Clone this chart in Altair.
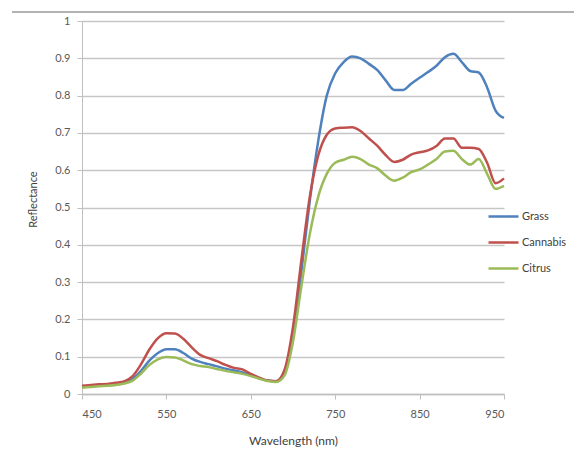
import altair as alt
import pandas as pd

wavelengths = list(range(450, 951, 10))

grass = [0.020, 0.022, 0.023, 0.024, 0.026, 0.030, 0.040, 0.062, 0.090, 0.110,
         0.120, 0.120, 0.110, 0.095, 0.086, 0.080, 0.074, 0.068, 0.063, 0.058,
         0.050, 0.042, 0.036, 0.034, 0.060, 0.160, 0.330, 0.520, 0.680, 0.800,
         0.860, 0.890, 0.905, 0.900, 0.885, 0.868, 0.840, 0.815, 0.815, 0.832,
         0.848, 0.863, 0.880, 0.903, 0.912, 0.890, 0.866, 0.862, 0.822, 0.760,
         0.740]

cannabis = [0.022, 0.024, 0.026, 0.027, 0.030, 0.034, 0.048, 0.080, 0.120, 0.150,
            0.163, 0.162, 0.148, 0.125, 0.105, 0.096, 0.088, 0.078, 0.070, 0.066,
            0.054, 0.044, 0.036, 0.034, 0.065, 0.180, 0.360, 0.530, 0.640, 0.695,
            0.712, 0.714, 0.715, 0.705, 0.685, 0.665, 0.640, 0.622, 0.628, 0.642,
            0.648, 0.653, 0.665, 0.685, 0.685, 0.660, 0.660, 0.657, 0.620, 0.565,
            0.578]

citrus = [0.017, 0.019, 0.021, 0.022, 0.024, 0.028, 0.036, 0.055, 0.078, 0.093,
          0.099, 0.098, 0.090, 0.080, 0.075, 0.072, 0.067, 0.062, 0.058, 0.054,
          0.048, 0.041, 0.035, 0.032, 0.050, 0.140, 0.290, 0.430, 0.530, 0.590,
          0.620, 0.628, 0.636, 0.630, 0.615, 0.605, 0.585, 0.572, 0.580, 0.595,
          0.602, 0.615, 0.630, 0.650, 0.652, 0.630, 0.615, 0.630, 0.590, 0.550,
          0.558]

series_names = ["Grass", "Cannabis", "Citrus"]
series_colors = ["#4F81BD", "#C0504D", "#9BBB59"]
x_ticks = [450, 550, 650, 750, 850, 950]
y_ticks = [0, 0.1, 0.2, 0.3, 0.4, 0.5, 0.6, 0.7, 0.8, 0.9, 1]

rows = []
for name, vals in zip(series_names, [grass, cannabis, citrus]):
    for w, v in zip(wavelengths, vals):
        rows.append({"Wavelength": w, "Reflectance": v, "Series": name})
df = pd.DataFrame(rows)

FONT = "Lato"

lines = alt.Chart(df).mark_line(strokeWidth=2.5, interpolate="monotone").encode(
    x=alt.X("Wavelength:Q",
            scale=alt.Scale(domain=[450, 950], nice=False, zero=False),
            axis=alt.Axis(values=x_ticks, title="Wavelength (nm)", grid=False,
                          domainColor="#bfbfbf", domainWidth=1.5,
                          tickColor="#bfbfbf", tickSize=5, tickWidth=1,
                          labelPadding=9, labelFontSize=11, labelColor="#595959",
                          labelFont=FONT, titleFont=FONT, titleFontSize=12,
                          titleFontWeight="normal", titleColor="#404040",
                          titleY=46, titleBaseline="middle")),
    y=alt.Y("Reflectance:Q",
            scale=alt.Scale(domain=[0, 1], nice=False),
            axis=alt.Axis(values=y_ticks, format="~g", title="Reflectance",
                          grid=True, gridColor="#c6c6c6", gridWidth=1.5,
                          domainColor="#bfbfbf", domainWidth=1,
                          tickColor="#bfbfbf", tickSize=5, labelPadding=7,
                          labelFontSize=11, labelColor="#595959",
                          labelFont=FONT, titleFont=FONT, titleFontSize=11,
                          titleFontWeight="normal", titleColor="#404040",
                          titleX=-49, titleY=178, titleAngle=270,
                          titleBaseline="middle", titleAlign="center")),
    color=alt.Color("Series:N",
                    scale=alt.Scale(domain=series_names, range=series_colors),
                    sort=series_names,
                    legend=alt.Legend(title=None, orient="none",
                                      legendX=405, legendY=179,
                                      symbolType="stroke", symbolSize=900,
                                      symbolStrokeWidth=2.5, rowPadding=4,
                                      labelFont=FONT, labelFontSize=11,
                                      labelColor="#404040", labelOffset=2)),
)

frame = alt.Chart(pd.DataFrame({"k": [0]})).mark_rule(
    color="#9a9a9a", strokeWidth=1.5
).encode(x=alt.value(-70), x2=alt.value(494), y=alt.value(-9))

chart = alt.layer(lines, frame).properties(
    width=422, height=373,
    padding={"left": 82, "top": 21, "right": 70, "bottom": 56},
    autosize=alt.AutoSizeParams(type="none"),
    background="white",
).configure_view(stroke=None)

chart.save("out.html", embed_options={"renderer": "svg", "actions": False})
